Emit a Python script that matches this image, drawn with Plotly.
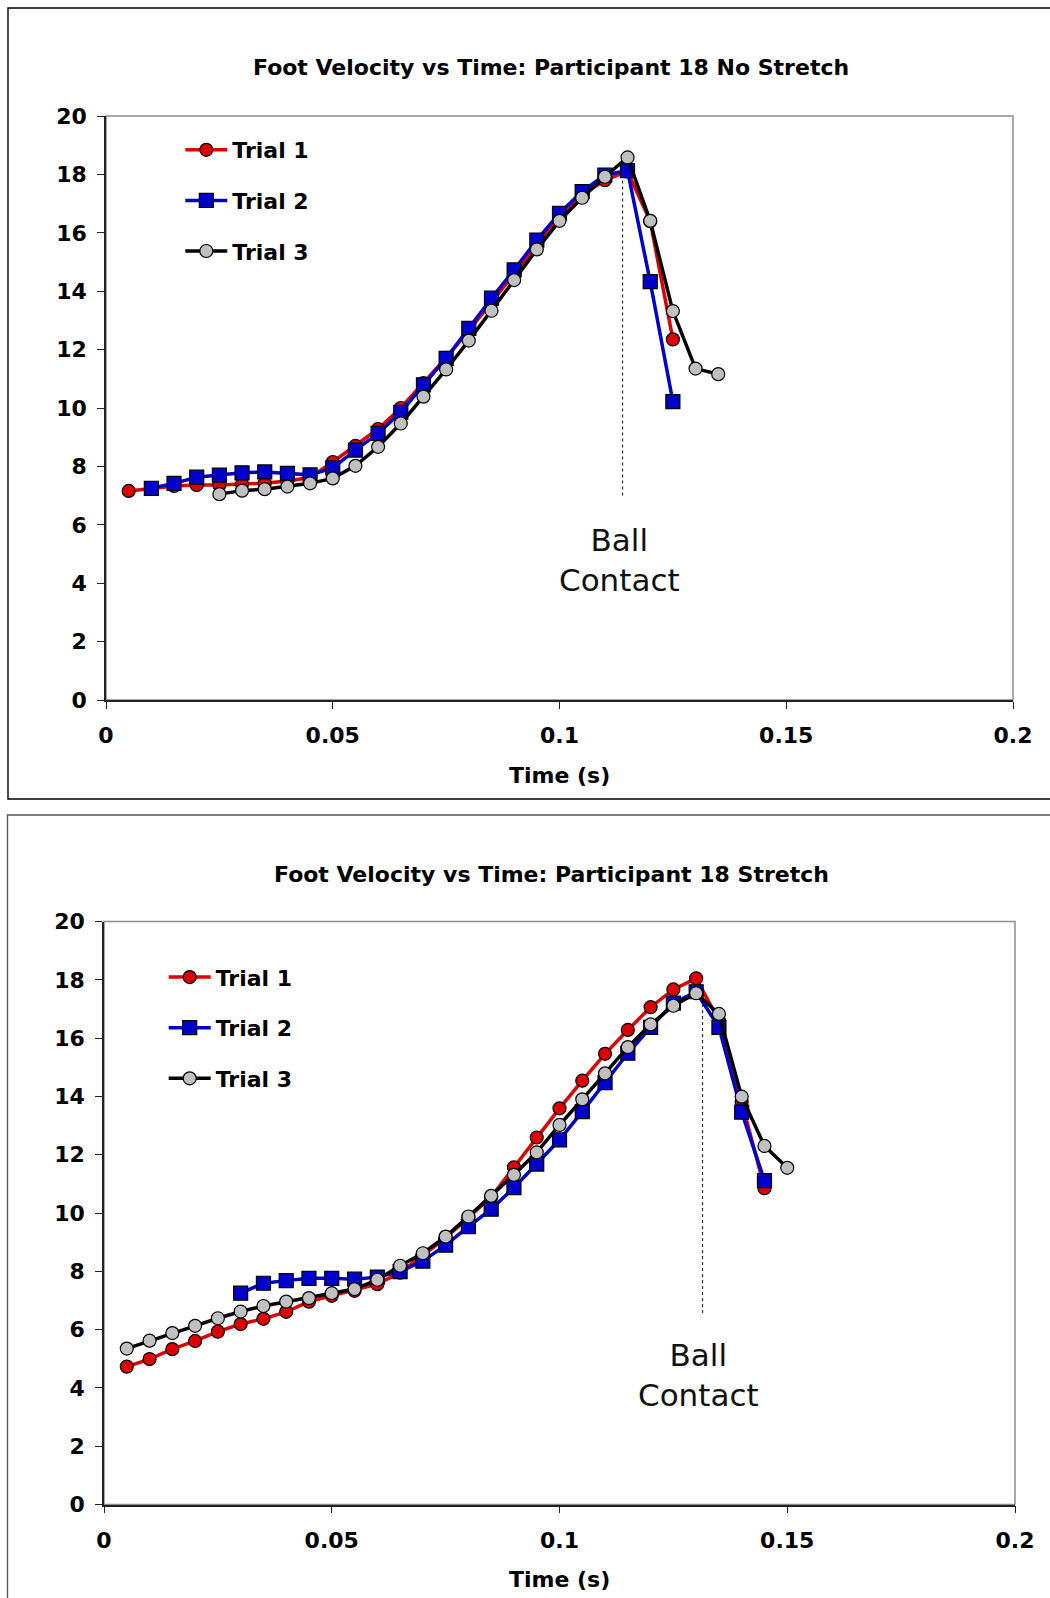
import plotly.graph_objects as go

# ---------------- data ----------------
# No Stretch (top chart)
ns_t1_time = [0.005, 0.010, 0.015, 0.020, 0.025, 0.030, 0.035, 0.040, 0.045, 0.050, 0.055, 0.060, 0.065,
              0.070, 0.075, 0.080, 0.085, 0.090, 0.095, 0.100, 0.105, 0.110, 0.115, 0.120, 0.125]
ns_t1_vel = [7.16, 7.25, 7.33, 7.36, 7.36, 7.40, 7.42, 7.50, 7.62, 8.15, 8.70, 9.28, 10.00,
             10.85, 11.72, 12.65, 13.62, 14.60, 15.60, 16.55, 17.30, 17.80, 18.10, 16.40, 12.35]

ns_t2_time = [0.010, 0.015, 0.020, 0.025, 0.030, 0.035, 0.040, 0.045, 0.050, 0.055, 0.060, 0.065,
              0.070, 0.075, 0.080, 0.085, 0.090, 0.095, 0.100, 0.105, 0.110, 0.115, 0.120, 0.125]
ns_t2_vel = [7.25, 7.42, 7.63, 7.70, 7.78, 7.81, 7.76, 7.71, 7.95, 8.56, 9.13, 9.85,
             10.79, 11.70, 12.73, 13.76, 14.73, 15.75, 16.67, 17.41, 17.98, 18.13, 14.33, 10.22]

ns_t3_time = [0.025, 0.030, 0.035, 0.040, 0.045, 0.050, 0.055, 0.060, 0.065, 0.070, 0.075, 0.080,
              0.085, 0.090, 0.095, 0.100, 0.105, 0.110, 0.115, 0.120, 0.125, 0.130, 0.135]
ns_t3_vel = [7.05, 7.17, 7.22, 7.31, 7.42, 7.59, 8.02, 8.67, 9.47, 10.39, 11.32, 12.31,
             13.33, 14.38, 15.43, 16.41, 17.20, 17.92, 18.58, 16.41, 13.32, 11.35, 11.16]

# Stretch (bottom chart)
s_t1_time = [0.005, 0.010, 0.015, 0.020, 0.025, 0.030, 0.035, 0.040, 0.045, 0.050, 0.055, 0.060, 0.065,
             0.070, 0.075, 0.080, 0.085, 0.090, 0.095, 0.100, 0.105, 0.110, 0.115, 0.120, 0.125, 0.130,
             0.135, 0.140, 0.145]
s_t1_vel = [4.73, 4.99, 5.33, 5.61, 5.93, 6.19, 6.37, 6.61, 6.96, 7.16, 7.33, 7.56, 7.95,
            8.55, 9.15, 9.85, 10.55, 11.57, 12.59, 13.59, 14.54, 15.46, 16.28, 17.06, 17.67, 18.05,
            16.60, 13.82, 10.85]

s_t2_time = [0.030, 0.035, 0.040, 0.045, 0.050, 0.055, 0.060, 0.065, 0.070, 0.075, 0.080, 0.085,
             0.090, 0.095, 0.100, 0.105, 0.110, 0.115, 0.120, 0.125, 0.130, 0.135, 0.140, 0.145]
s_t2_vel = [7.25, 7.59, 7.68, 7.76, 7.76, 7.73, 7.80, 7.99, 8.35, 8.90, 9.53, 10.13,
            10.87, 11.68, 12.51, 13.48, 14.47, 15.48, 16.37, 17.20, 17.59, 16.37, 13.46, 11.11]

s_t3_time = [0.005, 0.010, 0.015, 0.020, 0.025, 0.030, 0.035, 0.040, 0.045, 0.050, 0.055, 0.060, 0.065,
             0.070, 0.075, 0.080, 0.085, 0.090, 0.095, 0.100, 0.105, 0.110, 0.115, 0.120, 0.125, 0.130,
             0.135, 0.140, 0.145, 0.150]
s_t3_vel = [5.35, 5.62, 5.88, 6.13, 6.39, 6.62, 6.81, 6.96, 7.08, 7.25, 7.39, 7.71, 8.19,
            8.62, 9.19, 9.88, 10.59, 11.31, 12.08, 13.02, 13.90, 14.79, 15.69, 16.47, 17.11, 17.54,
            16.83, 13.99, 12.30, 11.55]

trial_names = ["Trial 1", "Trial 2", "Trial 3"]
titles = ["Foot Velocity vs Time: Participant 18 No Stretch",
          "Foot Velocity vs Time: Participant 18 Stretch"]
x_title = "Time (s)"
x_tickvals = [0, 0.05, 0.1, 0.15, 0.2]
x_ticktext = ["0", "0.05", "0.1", "0.15", "0.2"]
y_tickvals = [0, 2, 4, 6, 8, 10, 12, 14, 16, 18, 20]

# ball contact: time, line bottom, line top
ns_contact = (0.1139, 7.0, 18.3)
s_contact = (0.1314, 6.57, 17.5)
contact_label = "Ball<br>Contact"

# ---------------- styling ----------------
W, H = 1050, 1598
FONT = "DejaVu Sans"
RED, BLUE, GREY = "#DD0000", "#0000CC", "#C0C0C0"
styles = [
    dict(line=dict(color=RED, width=3.5), marker=dict(symbol="circle", size=13, color=RED,
                                                      line=dict(color="black", width=1.2))),
    dict(line=dict(color=BLUE, width=3.5), marker=dict(symbol="square", size=14, color=BLUE,
                                                       line=dict(color="black", width=1.2))),
    dict(line=dict(color="black", width=3.5), marker=dict(symbol="circle", size=13, color=GREY,
                                                          line=dict(color="black", width=1.2))),
]


def px_x(p):
    return p / W


def px_y(p):
    return 1 - p / H


fig = go.Figure()

datasets = [
    ([(ns_t1_time, ns_t1_vel), (ns_t2_time, ns_t2_vel), (ns_t3_time, ns_t3_vel)], "x", "y", "legend"),
    ([(s_t1_time, s_t1_vel), (s_t2_time, s_t2_vel), (s_t3_time, s_t3_vel)], "x2", "y2", "legend2"),
]
for series, xa, ya, leg in datasets:
    for i, (t, v) in enumerate(series):
        fig.add_trace(go.Scatter(x=t, y=v, mode="lines+markers", name=trial_names[i],
                                 xaxis=xa, yaxis=ya, legend=leg, legendgroup=f"{leg}{i}",
                                 **styles[i]))

# axis domains (pixel-measured)
top_x = [px_x(106), px_x(1013)]
top_y = [px_y(700), px_y(116)]
bot_x = [px_x(104), px_x(1015)]
bot_y = [px_y(1504.5), px_y(921.5)]

tick_font = dict(family=FONT, size=22, color="black", weight="bold")
axis_common = dict(showgrid=False, zeroline=False, showline=True, linecolor="#222222", linewidth=1.5,
                   ticks="outside", ticklen=7, tickcolor="#222222", tickwidth=1.3,
                   tickfont=tick_font, automargin=False)

fig.update_layout(
    width=W, height=H, autosize=False,
    margin=dict(l=0, r=0, t=0, b=0, pad=0, autoexpand=False),
    paper_bgcolor="white", plot_bgcolor="white",
    showlegend=True,
    xaxis=dict(domain=top_x, range=[0, 0.2], tickvals=x_tickvals, ticktext=x_ticktext,
               anchor="y", ticklabelstandoff=8, **axis_common),
    yaxis=dict(domain=top_y, range=[0, 20], tickvals=y_tickvals, anchor="x",
               ticklabelstandoff=6, **axis_common),
    xaxis2=dict(domain=bot_x, range=[0, 0.2], tickvals=x_tickvals, ticktext=x_ticktext,
                anchor="y2", ticklabelstandoff=8, **axis_common),
    yaxis2=dict(domain=bot_y, range=[0, 20], tickvals=y_tickvals, anchor="x2",
                ticklabelstandoff=6, **axis_common),
    legend=dict(x=px_x(180.3), y=px_y(129), xanchor="left", yanchor="top", bgcolor="rgba(0,0,0,0)",
                font=tick_font, itemwidth=42, tracegroupgap=19),
    legend2=dict(x=px_x(163.7), y=px_y(956.3), xanchor="left", yanchor="top", bgcolor="rgba(0,0,0,0)",
                 font=tick_font, itemwidth=42, tracegroupgap=19),
)

shapes = [
    # outer chart frames (kept inside the figure)
    dict(type="path", xref="paper", yref="paper",
         path=f"M 1,{px_y(8)} L {px_x(8)},{px_y(8)} L {px_x(8)},{px_y(799)} L 1,{px_y(799)}",
         line=dict(color="black", width=1.4), layer="below"),
    dict(type="path", xref="paper", yref="paper",
         path=f"M 1,{px_y(815)} L {px_x(7.5)},{px_y(815)} L {px_x(7.5)},0",
         line=dict(color="#555555", width=1.4), layer="below"),
    # plot area borders (grey)
    dict(type="rect", xref="x domain", yref="y domain", x0=0, x1=1, y0=0, y1=1,
         line=dict(color="#8C8C8C", width=1.5), layer="below"),
    dict(type="rect", xref="x2 domain", yref="y2 domain", x0=0, x1=1, y0=0, y1=1,
         line=dict(color="#8C8C8C", width=1.5), layer="below"),
    # ball contact lines
    dict(type="line", xref="x", yref="y", x0=ns_contact[0], x1=ns_contact[0], y0=ns_contact[1],
         y1=ns_contact[2], line=dict(color="#333333", width=1.2, dash="dot"), layer="below"),
    dict(type="line", xref="x2", yref="y2", x0=s_contact[0], x1=s_contact[0], y0=s_contact[1],
         y1=s_contact[2], line=dict(color="#333333", width=1.2, dash="dot"), layer="below"),
]
fig.update_layout(shapes=shapes)

title_font = dict(family=FONT, size=22, color="black", weight="bold")
label_font = dict(family=FONT, size=31, color="#111111")
annotations = [
    dict(text=titles[0], xref="paper", yref="paper", x=px_x(551), y=px_y(67), showarrow=False,
         xanchor="center", yanchor="middle", font=title_font),
    dict(text=titles[1], xref="paper", yref="paper", x=px_x(551), y=px_y(874), showarrow=False,
         xanchor="center", yanchor="middle", font=title_font),
    dict(text=x_title, xref="paper", yref="paper", x=px_x(559), y=px_y(775), showarrow=False,
         xanchor="center", yanchor="middle", font=tick_font),
    dict(text=x_title, xref="paper", yref="paper", x=px_x(559), y=px_y(1579), showarrow=False,
         xanchor="center", yanchor="middle", font=tick_font),
    dict(text=contact_label, xref="x", yref="y", x=0.1133, y=4.81, showarrow=False,
         xanchor="center", yanchor="middle", font=label_font),
    dict(text=contact_label, xref="x2", yref="y2", x=0.1306, y=4.45, showarrow=False,
         xanchor="center", yanchor="middle", font=label_font),
]
fig.update_layout(annotations=annotations)

fig.write_html(
    "out.html",
    config={"displayModeBar": False},
    post_script="document.documentElement.style.margin='0';document.body.style.margin='0';"
                "document.body.style.overflow='hidden';",
)
